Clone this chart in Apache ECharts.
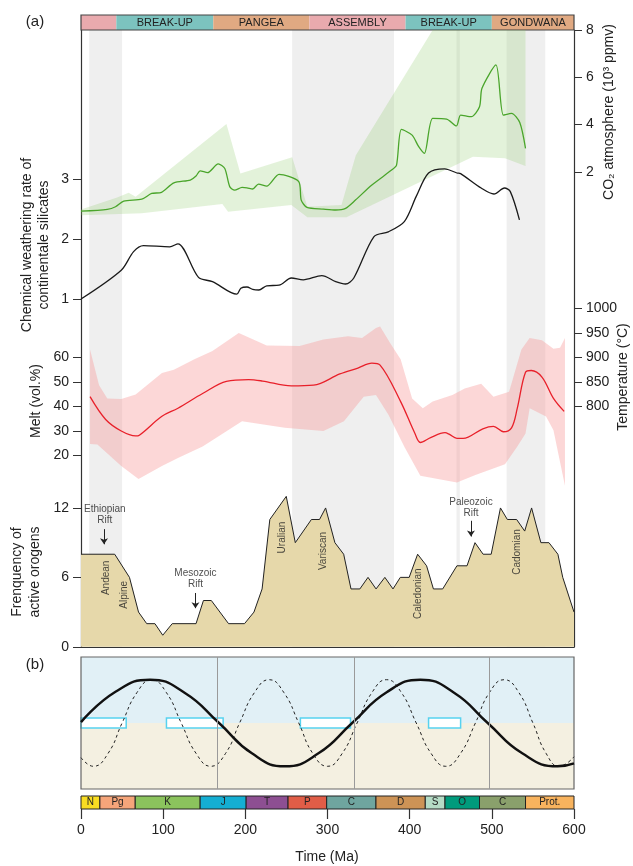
<!DOCTYPE html>
<html><head><meta charset="utf-8">
<script src="https://cdn.jsdelivr.net/npm/echarts/dist/echarts.min.js"></script>
<style>html,body{margin:0;padding:0;background:#fff}#c{width:633px;height:866px}</style>
</head><body><div id="c"></div>
<script>
// ---------------- DATA ----------------
const epochNames = ['', 'BREAK-UP', 'PANGEA', 'ASSEMBLY', 'BREAK-UP', 'GONDWANA'];
const epochBounds = [0, 43, 161, 278, 395, 500, 600];
const greyBands = [[10, 50], [257, 381], [457, 461], [518, 565]];

// CO2 (10^3 ppmv)
const co2Line = [[0,0.33],[32,0.41],[42,0.52],[52,0.76],[74,0.84],[86,1.08],[98,1.13],[113,1.53],[133,1.65],[140,1.82],[145,2.04],[154,1.96],[167,2.33],[175,2.14],[181,1.37],[187,1.22],[196,1.34],[202,1.32],[209,1.27],[216,1.48],[226,1.39],[241,1.89],[265,1.58],[268,0.80],[275,0.49],[295,0.42],[310,0.38],[322,0.45],[334,0.80],[354,1.44],[378,2.07],[384,2.28],[390,3.79],[403,3.55],[411,3.06],[418,2.78],[428,4.26],[445,4.23],[457,3.94],[462,4.40],[475,4.33],[485,4.75],[488,5.53],[505,6.52],[514,4.40],[524,4.47],[534,4.08],[541,2.99]];
const co2Upper = [[0,0.40],[44,0.91],[58,1.11],[66.5,0.94],[177,4.02],[194,1.93],[257,2.61],[275.5,0.52],[317,0.59],[334.5,2.70],[428,8.1],[541,8.1]];
const co2Lower = [[0,0.16],[74,0.24],[172,0.63],[179,0.31],[256,0.59],[275.5,0.07],[323,0.07],[477,2.64],[516,2.57],[541,2.24]];

// Chemical weathering rate
const weathering = [[0,1.0],[49,1.48],[64,1.79],[76,1.89],[108,1.87],[118,1.92],[143,1.36],[160,1.29],[189.5,1.08],[194.5,1.18],[202,1.20],[209,1.16],[216.5,1.15],[226,1.22],[241,1.23],[256,1.35],[270.5,1.32],[293,1.39],[310,1.29],[322,1.25],[332,1.35],[356.6,2.04],[374,2.12],[393.5,2.29],[408,2.71],[423,3.10],[442.6,3.17],[457.5,3.10],[462,3.09],[487,2.85],[502.6,2.75],[515.4,2.85],[522.5,2.79],[533.6,2.32]];

// Melt (vol.%)
const melt = [[11,44],[30,34.7],[49,30],[66.5,28],[71,28.3],[98.5,36],[118,39.3],[148,45.3],[177,50.3],[204,51],[221,50.4],[256,48.4],[283,48.7],[315,53.3],[337,55.7],[354,57.7],[364,56.9],[389,42],[406,29.3],[413,25.3],[425.5,27.3],[443,29.3],[448,28.7],[457.5,27],[465,27],[489,30.9],[502,31.9],[514,29.7],[524,31.3],[531,39.3],[541,54],[548,54.7],[561,52],[575,43.3],[588,38]];
const meltUpper = [[11,63.3],[22,48.7],[32,43.3],[49,43.1],[66.5,44.9],[98.5,53.7],[113,55],[138,59.3],[160,62.7],[192,70],[226,64.9],[266,64.7],[295,67.3],[325,68.7],[342,68],[359,72],[364,72.7],[376,66],[389,59.3],[403,43.3],[416,39.3],[428,42],[452,44.7],[467,47.3],[487,49.3],[502,44],[521,46],[536,63.3],[546,68],[561,67],[575,63.6],[583,64],[589,68]];
const meltLower = [[11,24.7],[20,24.5],[49,15.7],[70,10.4],[98.5,15.7],[118,19],[148,23.7],[196,34],[248,31.3],[295,30],[320,34],[344,44],[359,44.7],[374,36.7],[394,23.3],[413,11.7],[457.5,9],[480,12],[516,16.4],[531,23.7],[541,29],[546,39.3],[566,35.9],[575,30.3],[589,7.7]];

// Frequency of active orogens
const orogens = [[0,8],[41,8],[59,6],[70,3],[80,2],[90,2],[99.5,1],[111,2],[140,2],[149,4],[158.6,4],[179.6,2],[199,2],[210.5,3],[220.4,5],[229.8,11],[249.8,13],[260.8,9],[280.4,11],[290.3,11],[297.7,12],[309,9],[319.7,8],[328.6,5],[339.4,5],[349.3,6],[359.1,5],[369.8,6],[379.7,5],[388.6,6],[399.4,6],[409.7,8],[420.6,7],[428.9,5],[440.2,5],[457.5,7],[469.8,7],[479.5,9],[489.4,8],[499.2,8],[510.5,12],[518.9,11],[530.2,11],[540,10],[548.4,12],[559.7,9],[569.5,9],[580.4,8],[586.3,6],[600,3]];
const orogenLabels = [
  {text:'Ethiopian\nRift', x:29, f:11.43, rot:0},
  {text:'Mesozoic\nRift', x:139.3, f:5.85, rot:0},
  {text:'Paleozoic\nRift', x:474.6, f:12.05, rot:0},
  {text:'Andean', x:30.7, f:5.96, rot:90},
  {text:'Alpine', x:53, f:4.5, rot:90},
  {text:'Uralian', x:245, f:9.44, rot:90},
  {text:'Variscan', x:295, f:8.28, rot:90},
  {text:'Caledonian', x:410.7, f:4.59, rot:90},
  {text:'Cadomian', x:531, f:8.19, rot:90}
];
const riftArrows = [[28, 10.17, 8.86], [139.3, 4.65, 3.34], [474.6, 10.89, 9.53]];

// Panel (b) cycles (normalised amplitude)
const supercontinentCycle = [[0,0.02],[42,0.72],[84,1],[126,0.7],[168,0],[208,-0.7],[248,-1],[289,-0.7],[330,0],[372,0.71],[413,1],[454,0.7],[495,0],[537,-0.7],[580,-1],[600,-0.93]];
const shortCycle = [[0,-0.8],[15,-1],[33,-0.7],[50,0],[68,0.7],[86,1],[104,0.7],[122,0],[140,-0.7],[158,-1],[176,-0.7],[193,0],[211,0.7],[229,1],[247,0.7],[265,0],[282,-0.7],[300,-1],[318,-0.7],[336,0],[354,0.7],[372,1],[390,0.7],[408,0],[426,-0.7],[444,-1],[462,-0.7],[480,0],[497,0.7],[515,1],[533,0.7],[550,0],[566,-0.7],[582,-1],[600,-0.78]];
const cycleDividers = [166, 332, 497];
const transitionBoxes = [[0,55],[104,173],[267,328],[423,462]];

// Geological timescale
const periodNames = ['N','Pg','K','J','T','P','C','D','S','O','C','Prot.'];
const periodBounds = [0,23,66,145,201,252,299,359,419,443,485,541,600];
const timeTicks = [0,100,200,300,400,500,600];

// ---------------- STYLES ----------------
const FONT = '"Liberation Sans", Arial, Helvetica, sans-serif';
const epochColors = ['#e9aaae','#7cc3bf','#e0a982','#e9aaae','#7cc3bf','#e0a982'];
const periodColors = ['#f9dd22','#f5a57a','#8bc35d','#14aed3','#8d4f92','#e05d47','#6fa59f','#cd9356','#b5dcc6','#009b7c','#8aa06c','#f8b35e'];
const AX = '#333';

const chart = echarts.init(document.getElementById('c'), null, {renderer:'canvas', width:633, height:866});
const L = 81, R = 59;
function grid(top, height){ return {left:L, right:R, top:top, height:height, containLabel:false}; }
const grids = [grid(30,617), grid(29,330), grid(30,189), grid(308.5,196), grid(484.8,162), grid(657,132), grid(796,13), grid(15,15)];

const xAxes = grids.map((g,i)=>({type:'value', gridIndex:i, min:0, max:600, show:false}));
xAxes[4] = {type:'value', gridIndex:4, min:0, max:600, axisLine:{show:true, onZero:false, lineStyle:{color:AX, width:1}}, axisTick:{show:false}, axisLabel:{show:false}, splitLine:{show:false}};
xAxes[6] = {type:'value', gridIndex:6, min:0, max:600, interval:100, axisLine:{show:false, onZero:false},
  axisTick:{show:true, customValues:timeTicks, length:10, lineStyle:{color:AX, width:1.2}},
  axisLabel:{show:true, customValues:timeTicks, margin:14, fontSize:14, color:'#222', fontFamily:FONT},
  splitLine:{show:false}};

function tickAxis(gi, pos, min, max, vals){
  return {type:'value', gridIndex:gi, position:pos, min:min, max:max,
    axisLine:{show:false, onZero:false}, splitLine:{show:false},
    axisTick:{show:true, customValues:vals, length:8, lineStyle:{color:AX, width:1}},
    axisLabel:{show:true, customValues:vals, margin:12, fontSize:14, color:'#222', fontFamily:FONT, formatter:v=>String(v)}};
}
const frameAxis = (pos)=>({type:'value', gridIndex:0, position:pos, min:0, max:1, axisLine:{show:true, onZero:false, lineStyle:{color:AX, width:1.2}}, axisTick:{show:false}, axisLabel:{show:false}, splitLine:{show:false}});
const hiddenAxis = (gi,min,max)=>({type:'value', gridIndex:gi, min:min, max:max, show:false});

const yAxes = [
  frameAxis('left'), frameAxis('right'),
  tickAxis(1,'left',0,5.5,[1,2,3]),
  tickAxis(2,'right',0,8,[2,4,6,8]),
  tickAxis(3,'left',0,80,[20,30,40,50,60]),
  tickAxis(3,'right',600,1000,[800,850,900,950,1000]),
  tickAxis(4,'left',0,14,[0,6,12]),
  hiddenAxis(5,-1.524,1.524),
  hiddenAxis(6,0,1),
  hiddenAxis(7,0,1)
];

function bandRender(upper, lower, ymax, ymin){
  return function(params, api){
    const pts = [];
    upper.forEach(p=>pts.push(api.coord([p[0], Math.min(p[1], ymax)])));
    for (let i=lower.length-1;i>=0;i--) pts.push(api.coord([lower[i][0], Math.max(lower[i][1], ymin)]));
    return {type:'polygon', shape:{points:pts}, style:{fill:api.visual('color')}};
  };
}
const dummy = (xi, yi, extra)=>Object.assign({type:'line', xAxisIndex:xi, yAxisIndex:yi, data:[], silent:true, showSymbol:false, lineStyle:{width:0}}, extra);

const series = [
  // grey bands
  dummy(0,0,{z:1, markArea:{silent:true, itemStyle:{color:'#efefef'}, data: greyBands.map(b=>[{xAxis:b[0]},{xAxis:b[1]}])}}),
  // CO2 band
  {type:'custom', xAxisIndex:2, yAxisIndex:3, clip:true, silent:true, data:[[0,0]],
    itemStyle:{color:'rgba(140,200,100,0.24)'}, renderItem:bandRender(co2Upper, co2Lower, 8, 0)},
  {type:'line', xAxisIndex:2, yAxisIndex:3, data:co2Line, showSymbol:false, smooth:0.25, silent:true, lineStyle:{color:'#4aa52b', width:1.3}},
  // weathering
  {type:'line', xAxisIndex:1, yAxisIndex:2, data:weathering, showSymbol:false, smooth:0.3, silent:true, lineStyle:{color:'#1a1a1a', width:1.3}},
  // melt band + line
  {type:'custom', xAxisIndex:3, yAxisIndex:4, clip:true, silent:true, data:[[0,0]],
    itemStyle:{color:'rgba(248,150,150,0.38)'}, renderItem:bandRender(meltUpper, meltLower, 80, 0)},
  {type:'line', xAxisIndex:3, yAxisIndex:4, data:melt, showSymbol:false, smooth:0.35, silent:true, lineStyle:{color:'#e8202a', width:1.3}},
  // orogens
  {type:'line', xAxisIndex:4, yAxisIndex:6, data:orogens, showSymbol:false, silent:true, z:2,
    lineStyle:{color:'#222', width:1}, areaStyle:{color:'#e6d8aa', opacity:1},
    markLine:{silent:true, symbol:['none','arrow'], symbolSize:6, label:{show:false},
      lineStyle:{color:'#222', width:1, type:'solid'},
      data: riftArrows.map(a=>[{coord:[a[0],a[1]]},{coord:[a[0],a[2]]}])}},
  {type:'scatter', xAxisIndex:4, yAxisIndex:6, silent:true, symbolSize:1, z:10, itemStyle:{color:'rgba(0,0,0,0)'},
    data: orogenLabels.map(o=>({value:[o.x,o.f], label:{show:true, formatter:o.text, rotate:o.rot, position:'inside', fontSize:10, lineHeight:11, color:'#222', fontFamily:FONT}}))},
  // panel b backgrounds
  dummy(5,7,{markArea:{silent:true, data:[
    [{xAxis:0,yAxis:0,itemStyle:{color:'#e1f0f6'}},{xAxis:600,yAxis:1.524}],
    [{xAxis:0,yAxis:-1.524,itemStyle:{color:'#f4f0e1'}},{xAxis:600,yAxis:0}]]}}),
  dummy(5,7,{markLine:{silent:true, symbol:['none','none'], label:{show:false}, lineStyle:{color:'#9a9a9a', width:1, type:'solid'},
    data: cycleDividers.map(v=>({xAxis:v}))}}),
  dummy(5,7,{markArea:{silent:true, itemStyle:{color:'#ffffff', borderColor:'#57d2ef', borderWidth:1.5},
    data: transitionBoxes.map(b=>[{xAxis:b[0],yAxis:-0.115},{xAxis:b[1],yAxis:0.115}])}}),
  {type:'line', xAxisIndex:5, yAxisIndex:7, data:shortCycle, showSymbol:false, smooth:0.5, silent:true, lineStyle:{color:'#222', width:1, type:[3,3]}},
  {type:'line', xAxisIndex:5, yAxisIndex:7, data:supercontinentCycle, showSymbol:false, smooth:0.5, silent:true, lineStyle:{color:'#111', width:2.4}},
  dummy(5,7,{markArea:{silent:true, itemStyle:{color:'rgba(0,0,0,0)', borderColor:'#666', borderWidth:1.2},
    data:[[{xAxis:0,yAxis:-1.524},{xAxis:600,yAxis:1.524}]]}}),
  // timescale
  dummy(6,8,{markArea:{silent:true, label:{show:true, position:'inside', fontSize:10, color:'#222', fontFamily:FONT},
    itemStyle:{borderColor:'#222', borderWidth:1},
    data: periodNames.map((n,i)=>[{name:n, xAxis:periodBounds[i], yAxis:0, itemStyle:{color:periodColors[i]}},{xAxis:periodBounds[i+1], yAxis:1}])}}),
  // top epoch bar
  dummy(7,9,{markArea:{silent:true, label:{show:true, position:'inside', fontSize:11, color:'#222', fontFamily:FONT},
    data: epochNames.map((n,i)=>[{name:n, xAxis:epochBounds[i], yAxis:0, itemStyle:{color:epochColors[i]}},{xAxis:epochBounds[i+1], yAxis:1}])
      .concat([[{name:'', xAxis:0, yAxis:0, itemStyle:{color:'rgba(0,0,0,0)', borderColor:'#444', borderWidth:1.2}},{xAxis:600, yAxis:1}]])}})
];

function txt(text, x, y, size, opts){
  return Object.assign({type:'text', x:x, y:y, silent:true,
    style:Object.assign({text:text, fontSize:size, fontFamily:FONT, fill:'#222', align:'center', verticalAlign:'middle'}, (opts&&opts.style)||{})},
    opts&&opts.rotation!==undefined?{rotation:opts.rotation}:{});
}
const V = Math.PI/2;
const graphics = [
  txt('(a)', 35, 22, 15),
  txt('(b)', 35, 665, 15),
  txt('Chemical weathering rate of', 27, 245, 14, {rotation:V}),
  txt('continentale silicates', 44, 245, 14, {rotation:V}),
  txt('Melt (vol.%)', 36, 401, 14, {rotation:V}),
  txt('Frenquency of', 17, 572, 14, {rotation:V}),
  txt('active orogens', 35, 572, 14, {rotation:V}),
  txt('CO\u2082 atmosphere (10\u00b3 ppmv)', 609, 112, 14, {rotation:V}),
  txt('Temperature (\u00b0C)', 623, 377, 14, {rotation:V}),
  txt('Surface processes', 86, 666, 11, {style:{align:'left', fill:'#36b3d8'}}),
  txt('Curstal processes', 86, 779, 11, {style:{align:'left', fill:'#c9a23c'}}),
  txt('Time (Ma)', 327, 857, 14)
];

chart.setOption({
  animation:false,
  backgroundColor:'#ffffff',
  textStyle:{fontFamily:FONT},
  grid:grids, xAxis:xAxes, yAxis:yAxes, series:series,
  graphic:{elements:graphics}
});
</script></body></html>
